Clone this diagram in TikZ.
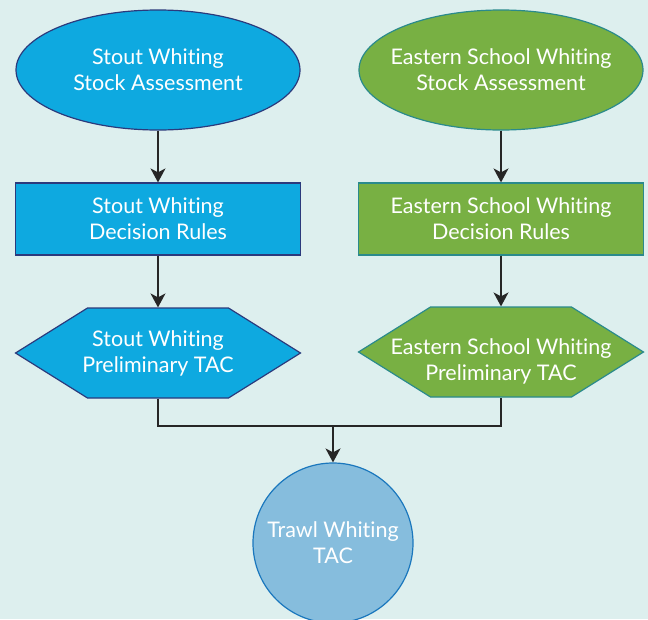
\documentclass[tikz,border=0pt]{standalone}
\usepackage{fontspec}
\setmainfont{Lato}[Ligatures=NoCommon, RawFeature={-liga,-calt,-clig,-dlig}]
\usepackage{xcolor}
\usetikzlibrary{shapes,shapes.geometric,arrows.meta,positioning,calc}

\definecolor{bgteal}{HTML}{DDEFEE}
\definecolor{stoutblue}{HTML}{0EA9E0}
\definecolor{stoutedge}{HTML}{2B3A7C}
\definecolor{eastgreen}{HTML}{78B043}
\definecolor{eastedge}{HTML}{2A8A8C}
\definecolor{trawlblue}{HTML}{86BDDD}
\definecolor{trawledge}{HTML}{1A77BD}

\tikzset{
    boxtext/.style={text=white, align=center, inner sep=0pt, line width=1.2pt, font=\fontsize{21.5}{26}\selectfont},
    stout/.style={boxtext, fill=stoutblue, draw=stoutedge},
    eastern/.style={boxtext, fill=eastgreen, draw=eastedge},
    assess/.style={ellipse, inner xsep=-40pt, minimum width=284pt, minimum height=120pt},
    rules/.style={rectangle, minimum width=285pt, minimum height=72pt},
    prelim/.style={boxtext, rectangle, minimum width=285pt, minimum height=90pt},
    flow/.style={line width=1.6pt, draw={black!85}},
    arrow/.style={flow, -{Stealth[length=14pt, width=15pt, inset=4pt]}}
}

\begin{document}
\begin{tikzpicture}[x=1pt, y=-1pt]
    \useasboundingbox (0,0) rectangle (648,619);
    \clip (0,0) rectangle (648,619);
    \fill [bgteal] (0,0) rectangle (648,619);

    % Hexagon outlines for the preliminary TACs
    \foreach \x/\y/\c in {158/353/stout, 501/352/eastern}
        \draw [\c] (\x-142.5,\y) -- (\x-70.5,\y-45) -- (\x+70.5,\y-45) -- (\x+142.5,\y)
            -- (\x+70.5,\y+45) -- (\x-70.5,\y+45) -- cycle;

    % Stout Whiting column
    \node [stout, assess] (stoutsa) at (158,70) {Stout Whiting\\Stock Assessment};
    \node [stout, rules] (stoutdr) at (158,219) {Stout Whiting\\Decision Rules};
    \node [prelim] (stoutpt) at (158,353) {Stout Whiting\\Preliminary TAC};

    % Eastern School Whiting column
    \node [eastern, assess] (eastsa) at (501,70) {Eastern School Whiting\\Stock Assessment};
    \node [eastern, rules] (eastdr) at (501,219) {Eastern School Whiting\\Decision Rules};
    \node [prelim] (eastpt) at (501,352) {\rule{0pt}{34pt}Eastern School Whiting\\Preliminary TAC};

    % Combined TAC
    \node [boxtext, circle, fill=trawlblue, draw=trawledge, minimum size=160pt] (trawl) at (333,543) {Trawl Whiting\\TAC};
    \coordinate (join) at (333,426);

    \draw [arrow] (stoutsa) -- (stoutdr);
    \draw [arrow] (stoutdr) -- (stoutpt);
    \draw [arrow] (eastsa) -- (eastdr);
    \draw [arrow] (eastdr) -- (eastpt);
    \draw [flow] (stoutpt.south) |- (join) -| (eastpt.south);
    \draw [arrow] (join) -- (trawl);
\end{tikzpicture}
\end{document}
